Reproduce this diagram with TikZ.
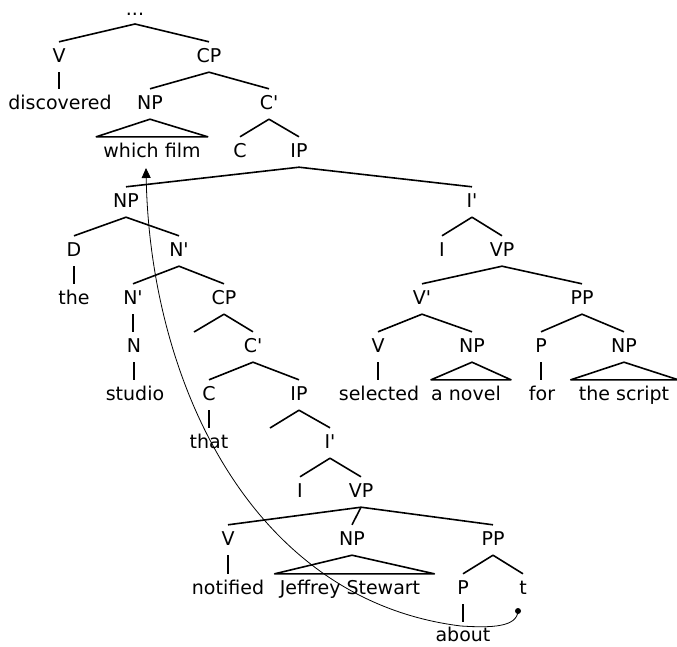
\documentclass[tikz,border=0pt]{standalone}
\usepackage{fontspec}
\setmainfont{DejaVu Sans}[Ligatures=TeXOff]
\usetikzlibrary{calc,arrows.meta}
\begin{document}
\begin{tikzpicture}[x=1pt,y=-1pt,
  lab/.style={anchor=base,inner xsep=0pt,inner ysep=6pt,text height=14pt,text depth=4pt,font=\fontsize{19}{22}\selectfont},
  edgelab/.style={lab,inner ysep=0pt,text depth=0pt},
  br/.style={line width=1.6pt,line join=round},
  mv/.style={line width=0.8pt}]
\useasboundingbox (0,0) rectangle (677,646);
% row 0
\node[edgelab,text height=3pt] (top) at (135,15) {...};
% row 1
\node[lab] (V1) at (59,62) {V};
\node[lab] (CP1) at (209,62) {CP};
% row 2
\node[lab] (disc) at (60,109) {discovered};
\node[lab] (NP1) at (150,109) {NP};
\node[lab] (Cb1) at (269,109) {C'};
% row 3
\node[lab] (wf) at (152,157) {which film};
\node[lab] (C1) at (240,157) {C};
\node[lab] (IP1) at (299,157) {IP};
% row 4
\node[lab] (NP2) at (126,207) {NP};
\node[lab] (Ib1) at (472,207) {I'};
% row 5
\node[lab] (D) at (74,256) {D};
\node[lab] (Nb1) at (179,256) {N'};
\node[lab] (I1) at (442,256) {I};
\node[lab] (VP1) at (502,256) {VP};
% row 6
\node[lab] (the) at (74,304) {the};
\node[lab] (Nb2) at (133,304) {N'};
\node[lab] (CP2) at (224,304) {CP};
\node[lab] (Vb1) at (422,304) {V'};
\node[lab] (PP1) at (582,304) {PP};
% row 7
\node[lab] (N) at (134,352) {N};
\node[lab] (Cb2) at (253,352) {C'};
\node[lab] (V3) at (378,352) {V};
\node[lab] (NP3) at (472,352) {NP};
\node[lab] (P1) at (541,352) {P};
\node[lab] (NP4) at (624,352) {NP};
\coordinate (e1) at (194,332);
% row 8
\node[lab] (studio) at (135,400) {studio};
\node[lab] (C2) at (209,400) {C};
\node[lab] (IP2) at (299,400) {IP};
\node[lab] (sel) at (379,400) {selected};
\node[lab] (nov) at (466,400) {a novel};
\node[lab] (for) at (542,400) {for};
\node[lab] (scr) at (624,400) {the script};
% row 9
\node[lab] (that) at (209,448) {that};
\node[lab] (Ib2) at (330,448) {I'};
\coordinate (e2) at (270,428);
% row 10
\node[lab] (I2) at (300,497) {I};
\node[lab] (VP2) at (361,497) {VP};
% row 11
\node[lab] (V2) at (228,545) {V};
\node[lab] (NP5) at (352,545) {NP};
\node[lab] (PP2) at (493,545) {PP};
% row 12
\node[lab] (notif) at (228,594) {notified};
\node[lab] (js) at (350,594) {Jeffrey Stewart};
\node[lab] (P2) at (463,594) {P};
\node[lab] (t) at (523,594) {t};
% row 13
\node[edgelab] (about) at (463,641) {about};

% branches
\draw[br] (V1.north) -- ($(top.base)+(0,9)$) -- (CP1.north);
\draw[br] (V1.south) -- (V1.south |- disc.north);
\draw[br] (NP1.north) -- (CP1.south) -- (Cb1.north);
\draw[br] (NP1.south) -- ($(wf.north west)+(-7,0)$) -- ($(wf.north east)+(7,0)$) -- cycle;
\draw[br] (C1.north) -- (Cb1.south) -- (IP1.north);
\draw[br] (NP2.north) -- (IP1.south) -- (Ib1.north);
\draw[br] (D.north) -- (NP2.south) -- (Nb1.north);
\draw[br] (D.south) -- (D.south |- the.north);
\draw[br] (Nb2.north) -- (Nb1.south) -- (CP2.north);
\draw[br] (Nb2.south) -- (Nb2.south |- N.north);
\draw[br] (N.south) -- (N.south |- studio.north);
\draw[br] (e1) -- (CP2.south) -- (Cb2.north);
\draw[br] (C2.north) -- (Cb2.south) -- (IP2.north);
\draw[br] (C2.south) -- (C2.south |- that.north);
\draw[br] (e2) -- (IP2.south) -- (Ib2.north);
\draw[br] (I2.north) -- (Ib2.south) -- (VP2.north);
\draw[br] (V2.north) -- (VP2.south) -- (PP2.north);
\draw[br] (VP2.south) -- (NP5.north);
\draw[br] (V2.south) -- (V2.south |- notif.north);
\draw[br] (NP5.south) -- ($(js.north west)+(-5,0)$) -- ($(js.north east)+(14,0)$) -- cycle;
\draw[br] (P2.north) -- (PP2.south) -- (t.north);
\draw[br] (P2.south) -- ($(P2.south |- about.north)+(0,-5)$);
\draw[br] (I1.north) -- (Ib1.south) -- (VP1.north);
\draw[br] (Vb1.north) -- (VP1.south) -- (PP1.north);
\draw[br] (V3.north) -- (Vb1.south) -- (NP3.north);
\draw[br] (V3.south) -- (V3.south |- sel.north);
\draw[br] (NP3.south) -- ($(nov.north west)+(0,0)$) -- ($(nov.north east)+(10,0)$) -- cycle;
\draw[br] (P1.north) -- (PP1.south) -- (NP4.north);
\draw[br] (P1.south) -- (P1.south |- for.north);
\draw[br] (NP4.south) -- ($(scr.north west)+(-8,0)$) -- ($(scr.north east)+(9,0)$) -- cycle;

% movement arrow
\node[circle,fill,inner sep=0pt,minimum size=6pt] (tdot) at (518,611) {};
\coordinate (bend) at (461,626);
\coordinate (tip) at (146,168);
\draw[mv,-{Triangle[length=10pt,width=9pt]}] (tdot.center) .. controls (517,627) and (492,628) .. (bend)
  .. controls (250,600) and (150,380) .. (tip);
\end{tikzpicture}
\end{document}
